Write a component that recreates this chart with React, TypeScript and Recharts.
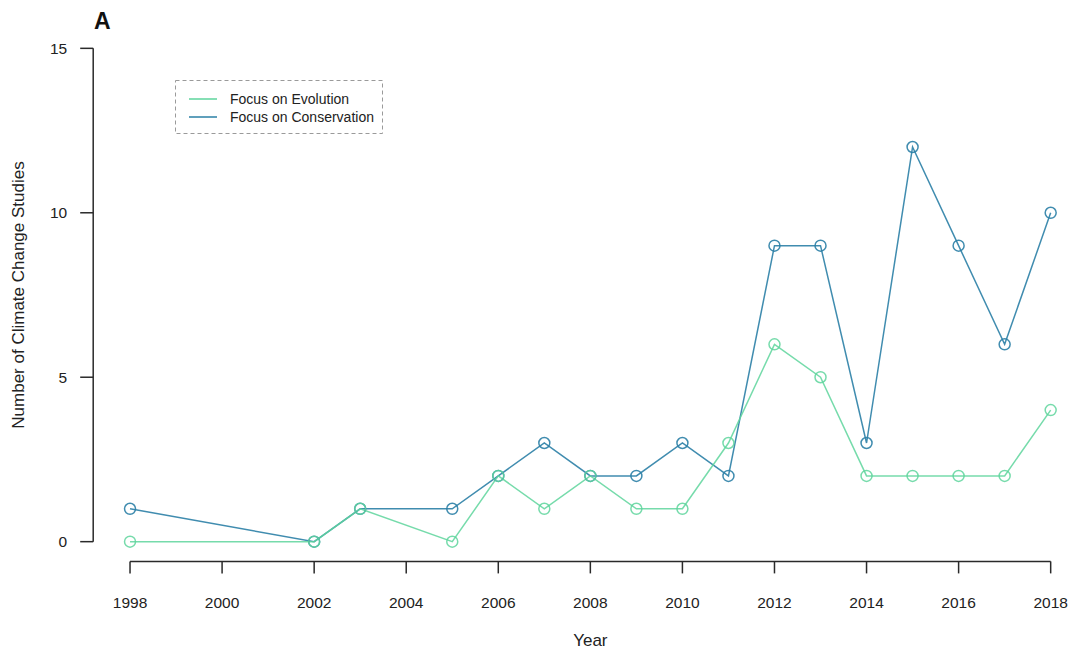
import React from 'react';
import { LineChart, Line, XAxis, YAxis, Legend, ReferenceLine, Label } from 'recharts';

// Publication years with at least one study
const years = [1998, 2002, 2003, 2005, 2006, 2007, 2008, 2009, 2010, 2011, 2012, 2013, 2014, 2015, 2016, 2017, 2018];
// Number of climate change studies per year
const evolution = [0, 0, 1, 0, 2, 1, 2, 1, 1, 3, 6, 5, 2, 2, 2, 2, 4];
const conservation = [1, 0, 1, 1, 2, 3, 2, 2, 3, 2, 9, 9, 3, 12, 9, 6, 10];

const xTicks = [1998, 2000, 2002, 2004, 2006, 2008, 2010, 2012, 2014, 2016, 2018];
const yTicks = [0, 5, 10, 15];

const EVO_COLOR = '#5ed59c';
const CON_COLOR = '#2b80a6';
const AXIS_COLOR = '#2a2a2a';
const FONT = '"Liberation Sans", Arial, Helvetica, sans-serif';

const legendOrder = ['Focus on Evolution', 'Focus on Conservation'];

const data = years.map((year, i) => ({
  year,
  evolution: evolution[i],
  conservation: conservation[i],
}));

const renderLegend = (props: any) => {
  const payload = [...(props.payload || [])].sort(
    (a: any, b: any) => legendOrder.indexOf(a.value) - legendOrder.indexOf(b.value)
  );
  return (
    <svg width={210} height={56} style={{ display: 'block', overflow: 'visible' }}>
      <rect x={0.5} y={0.5} width={207} height={53} fill="#fff" stroke="#9a9a9a" strokeDasharray="4 3" strokeWidth={1} />
      {payload.map((entry: any, i: number) => {
        const cy = 19 + i * 18;
        return (
          <g key={entry.value}>
            <line x1={14} x2={42} y1={cy} y2={cy} stroke={entry.color} strokeWidth={1.5} />
            <text x={55} y={cy + 5} fontSize={14} fontFamily={FONT} fill="#222">
              {entry.value}
            </text>
          </g>
        );
      })}
    </svg>
  );
};

export default function App() {
  return (
    <div style={{ position: 'absolute', left: 0, top: 0, width: 1072, height: 654, overflow: 'hidden', background: '#fff' }}>
      <LineChart width={1100} height={654} data={data} margin={{ top: 28.6, right: 12.5, bottom: 0, left: 0 }}>
        <XAxis
          dataKey="year"
          type="number"
          domain={[1997.2, 2018.8]}
          ticks={xTicks}
          axisLine={false}
          tickSize={12}
          tickMargin={24}
          height={92.6}
          tickLine={{ stroke: AXIS_COLOR, strokeWidth: 1.5 }}
          tick={{ fill: '#222', fontSize: 15.5, fontFamily: FONT }}
          interval={0}
        >
          <Label
            content={(p: any) => {
              const vb = p.viewBox;
              return (
                <text x={vb.x + vb.width / 2} y={646} textAnchor="middle" fontSize={17} fontFamily={FONT} fill="#222">
                  Year
                </text>
              );
            }}
          />
        </XAxis>
        <YAxis
          type="number"
          domain={[-0.6, 15.6]}
          ticks={yTicks}
          axisLine={false}
          width={93.2}
          tickSize={13}
          tickMargin={13}
          tickLine={{ stroke: AXIS_COLOR, strokeWidth: 1.5 }}
          tick={{ fill: '#222', fontSize: 15.5, fontFamily: FONT }}
          interval={0}
        >
          <Label
            content={(p: any) => {
              const vb = p.viewBox;
              const cy = vb.y + vb.height / 2;
              return (
                <text
                  x={18}
                  y={cy}
                  transform={`rotate(-90, 18, ${cy})`}
                  textAnchor="middle"
                  dominantBaseline="central"
                  fontSize={17}
                  fontFamily={FONT}
                  fill="#222"
                >
                  Number of Climate Change Studies
                </text>
              );
            }}
          />
        </YAxis>
        {/* Axis lines spanning only the first to last tick */}
        <ReferenceLine
          segment={[{ x: 1998, y: -0.6 }, { x: 2018, y: -0.6 }]}
          stroke={AXIS_COLOR}
          strokeWidth={1.5}
          ifOverflow="visible"
        />
        <ReferenceLine
          segment={[{ x: 1997.2, y: 0 }, { x: 1997.2, y: 15 }]}
          stroke={AXIS_COLOR}
          strokeWidth={1.5}
          ifOverflow="visible"
        />
        <Legend
          layout="vertical"
          align="center"
          verticalAlign="middle"
          content={renderLegend}
          wrapperStyle={{ position: 'absolute', left: 175, top: 80, width: 210, height: 56 }}
        />
        <Line
          type="linear"
          dataKey="conservation"
          name="Focus on Conservation"
          stroke={CON_COLOR}
          strokeWidth={1.5}
          strokeOpacity={0.9}
          dot={{ r: 5.5, fill: 'none', stroke: CON_COLOR, strokeWidth: 1.5, strokeOpacity: 0.9 }}
          activeDot={false}
          isAnimationActive={false}
        />
        <Line
          type="linear"
          dataKey="evolution"
          name="Focus on Evolution"
          stroke={EVO_COLOR}
          strokeWidth={1.5}
          strokeOpacity={0.85}
          dot={{ r: 5.5, fill: 'none', stroke: EVO_COLOR, strokeWidth: 1.5, strokeOpacity: 0.85 }}
          activeDot={false}
          isAnimationActive={false}
        />
        <text x={94} y={29} fontSize={23} fontWeight="bold" fontFamily={FONT} fill="#111">
          A
        </text>
      </LineChart>
    </div>
  );
}
